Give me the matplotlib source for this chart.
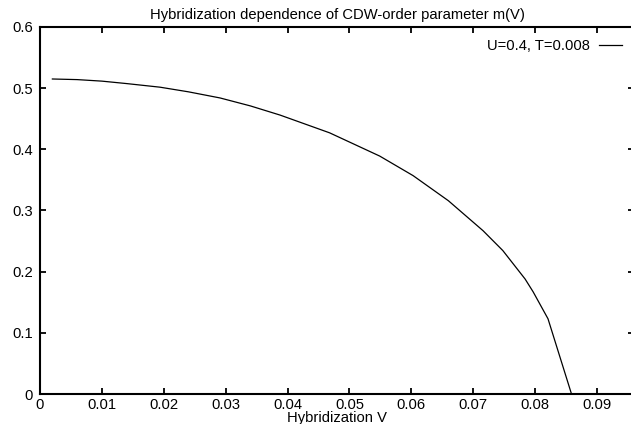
import matplotlib
matplotlib.use("Agg")
import matplotlib.pyplot as plt

plt.rcParams['font.family'] = ['Liberation Sans', 'DejaVu Sans']

# hybridization V and CDW order parameter m(V)
v = [0.002, 0.006, 0.010, 0.014, 0.0194, 0.024, 0.0291, 0.034, 0.0388,
     0.0468, 0.0549, 0.0603, 0.0660, 0.0716, 0.0748, 0.0784, 0.0797,
     0.0821, 0.0859]
m = [0.515, 0.514, 0.5115, 0.5075, 0.5016, 0.494, 0.484, 0.471, 0.456,
     0.427, 0.389, 0.357, 0.316, 0.267, 0.2345, 0.188, 0.167,
     0.123, 0.000]

xticks = [0, 0.01, 0.02, 0.03, 0.04, 0.05, 0.06, 0.07, 0.08, 0.09]
xlabels = ['0', '0.01', '0.02', '0.03', '0.04', '0.05', '0.06', '0.07', '0.08', '0.09']
yticks = [0, 0.1, 0.2, 0.3, 0.4, 0.5, 0.6]
ylabels = ['0', '0.1', '0.2', '0.3', '0.4', '0.5', '0.6']

W, H = 631, 424
fs = 10.6
fig = plt.figure(figsize=(W / 100, H / 100), dpi=100)
ax = fig.add_axes([40 / W, (H - 394) / H, (634 - 40) / W, (394 - 27) / H])

ax.plot(v, m, color='black', lw=0.9, label='U=0.4, T=0.008')

ax.set_xlim(0, 0.096)
ax.set_ylim(0, 0.6)
ax.set_xticks(xticks)
ax.set_xticklabels(xlabels)
ax.set_yticks(yticks)
ax.set_yticklabels(ylabels)
ax.tick_params(direction='in', length=4, width=1.3, labelsize=fs,
               top=True, right=True, color='black')
ax.tick_params(axis='x', pad=3)
ax.tick_params(axis='y', pad=5)
for s in ax.spines.values():
    s.set_linewidth(1.5)

ax.set_title('Hybridization dependence of CDW-order parameter m(V)', fontsize=fs, pad=6)
ax.set_xlabel('Hybridization V', fontsize=fs)
ax.xaxis.set_label_coords(0.5, -0.046)

ax.legend(loc='upper right', frameon=False, markerfirst=False, fontsize=fs,
          handlelength=1.6, handletextpad=0.6, borderaxespad=0.4,
          bbox_to_anchor=(1.0, 1.0))

fig.savefig('out.png', dpi=100)
